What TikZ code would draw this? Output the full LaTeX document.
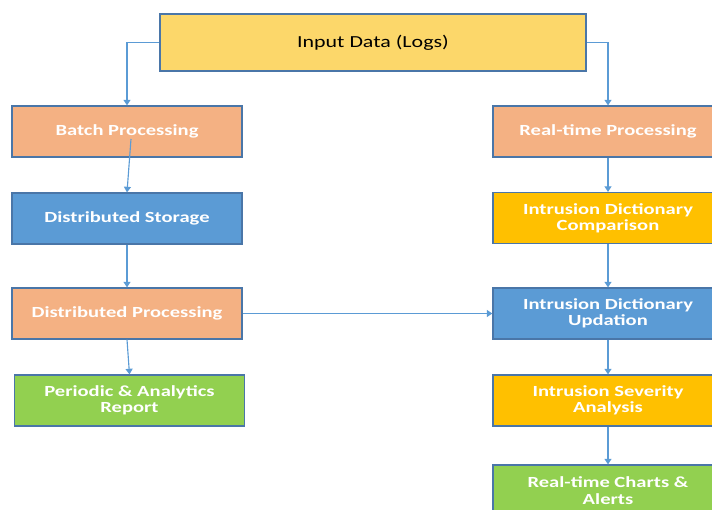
\documentclass[tikz,border=0pt]{standalone}
\usepackage{fontspec}
\setmainfont{Carlito}
\newfontfamily\boxfont[FakeStretch=1.33]{Carlito}
\newfontfamily\topfont[FakeStretch=1.3]{Carlito}
\usepackage{tikz}
\usetikzlibrary{arrows.meta,calc}

\definecolor{inyellow}{HTML}{FCD76A}
\definecolor{peach}{HTML}{F4B183}
\definecolor{skyblue}{HTML}{5B9BD5}
\definecolor{gold}{HTML}{FFC000}
\definecolor{leaf}{HTML}{92D050}
\definecolor{rim}{HTML}{4A76A8}
\definecolor{wire}{HTML}{5B9BD5}

\tikzset{
  box/.style={draw=rim, line width=0.8pt, minimum width=5.75cm, minimum height=1.275cm,
    text=white, align=center, font=\boxfont\fontsize{11}{11.6}\selectfont\bfseries, inner sep=0pt},
  conn/.style={draw=wire, line width=0.8pt, -{Triangle[length=4pt,width=5pt]}}
}

\begin{document}
\begin{tikzpicture}[x=0.025cm, y=-0.025cm]

\clip (0,0) rectangle (712,510);

% top
\node[box, fill=inyellow, text=black, minimum width=10.65cm, minimum height=1.425cm,
  font=\topfont\fontsize{12}{14}\selectfont] (input) at (373,42.5) {Input Data (Logs)};

% batch side
\node[box, fill=peach] (batch) at (127,131.5) {Batch Processing};
\node[box, fill=skyblue] (store) at (127,218.5) {Distributed Storage};
\node[box, fill=peach] (dproc) at (127,313.5) {Distributed Processing};
\node[box, fill=leaf] (report) at (129.5,400.5) {Periodic \& Analytics\\Report};

% real-time side
\node[box, fill=peach] (rtproc) at (608,131.5) {Real-time Processing};
\node[box, fill=gold] (compare) at (608,218) {Intrusion Dictionary\\Comparison};
\node[box, fill=skyblue] (update) at (608,313.5) {Intrusion Dictionary\\Updation};
\node[box, fill=gold] (severity) at (608,400.5) {Intrusion Severity\\Analysis};
\node[box, fill=leaf] (charts) at (608,490.5) {Real-time Charts \&\\Alerts};

\coordinate (bstart) at (131,139);

\draw[conn] (input.west) -| (batch.north);
\draw[conn] (input.east) -| (rtproc.north);
\draw[conn] (bstart) -- (store.north);
\draw[conn] (store.south) -- (dproc.north);
\draw[conn] (dproc.south) -- (report.north);
\draw[conn] (dproc.east) -- (update.west);
\draw[conn] (rtproc.south) -- (compare.north);
\draw[conn] (compare.south) -- (update.north);
\draw[conn] (update.south) -- (severity.north);
\draw[conn] (severity.south) -- (charts.north);

\end{tikzpicture}
\end{document}
